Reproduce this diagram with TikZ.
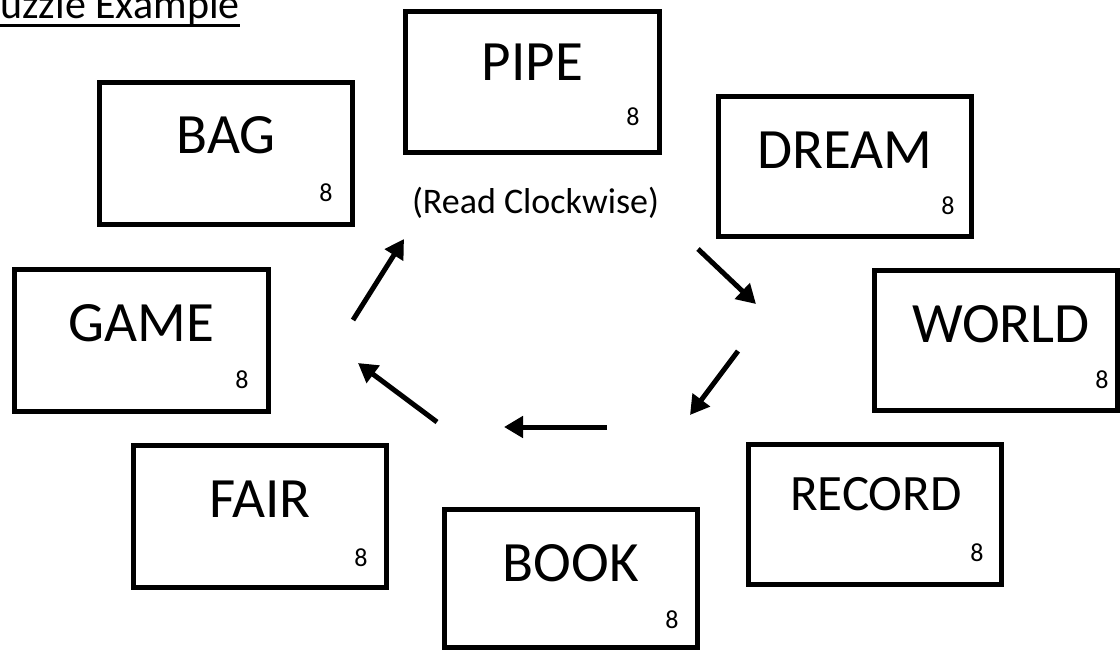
\documentclass[tikz,border=0pt]{standalone}
\usepackage{fontspec}
\setmainfont{Carlito}
\usetikzlibrary{arrows.meta}
\begin{document}
\begin{tikzpicture}[x=1pt,y=-1pt,
  card/.style 2 args={draw, line width=5.3pt, inner sep=0pt, minimum width=#1, minimum height=#2},
  word/.style={font=\fontsize{57}{62}\selectfont, anchor=base, inner sep=0pt},
  smallword/.style={font=\fontsize{51}{56}\selectfont, anchor=base, inner sep=0pt},
  num/.style={font=\fontsize{26}{28}\selectfont, inner sep=0pt},
  hint/.style={font=\fontsize{36}{40}\selectfont, anchor=base, inner sep=0pt},
  arr/.style={line width=5pt, -{Triangle[length=19pt,width=21pt]}}]
\useasboundingbox (0,0) rectangle (1120,651);

% title
\node[font=\fontsize{42}{48}\selectfont, anchor=base west, inner sep=0pt] (title) at (0,18) {uzzle Example};
\draw[line width=3pt] ([yshift=-7.5pt]title.base west) -- ([yshift=-7.5pt]title.base east);

% cards
\node[card={253.7pt}{140.7pt}] (pipe) at (532.5,82) {};
\node[word] (pipeW) at (532.5,80) {PIPE};
\node[num] (pipeN) at (633,117) {8};

\node[card={252.7pt}{141.7pt}] (bag) at (226,153.5) {};
\node[word] (bagW) at (226,153) {BAG};
\node[num] (bagN) at (326,193) {8};

\node[card={252.7pt}{139.7pt}] (dream) at (845,166.5) {};
\node[word] (dreamW) at (845,168) {DREAM};
\node[num] (dreamN) at (948,206) {8};

\node[card={253.7pt}{141.7pt}] (game) at (141.5,340.5) {};
\node[word] (gameW) at (141.5,341) {GAME};
\node[num] (gameN) at (242,380) {8};

\node[card={242.7pt}{139.7pt}] (world) at (996,340.5) {};
\node[word] (worldW) at (1001,342) {WORLD};
\node[num] (worldN) at (1102,380) {8};

\node[card={252.7pt}{141.7pt}] (fair) at (260,516.5) {};
\node[word] (fairW) at (260,517) {FAIR};
\node[num] (fairN) at (361,558) {8};

\node[card={252.7pt}{137.7pt}] (book) at (571,578.5) {};
\node[word] (bookW) at (571,581) {BOOK};
\node[num] (bookN) at (672,620) {8};

\node[card={252.7pt}{139.7pt}] (record) at (875,514.5) {};
\node[smallword] (recordW) at (876,510) {RECORD};
\node[num] (recordN) at (977,553) {8};

% hint
\node[hint] (hintT) at (535.5,213) {(Read Clockwise)};

% arrows
\coordinate (a1s) at (353,320); \coordinate (a1e) at (404,239);
\coordinate (a2s) at (698,249); \coordinate (a2e) at (756,304);
\coordinate (a3s) at (738,351); \coordinate (a3e) at (690,415);
\coordinate (a4s) at (607,427); \coordinate (a4e) at (504,427);
\coordinate (a5s) at (437,422); \coordinate (a5e) at (358,363);
\draw[arr] (a1s) -- (a1e);
\draw[arr] (a2s) -- (a2e);
\draw[arr] (a3s) -- (a3e);
\draw[arr] (a4s) -- (a4e);
\draw[arr] (a5s) -- (a5e);
\end{tikzpicture}
\end{document}
